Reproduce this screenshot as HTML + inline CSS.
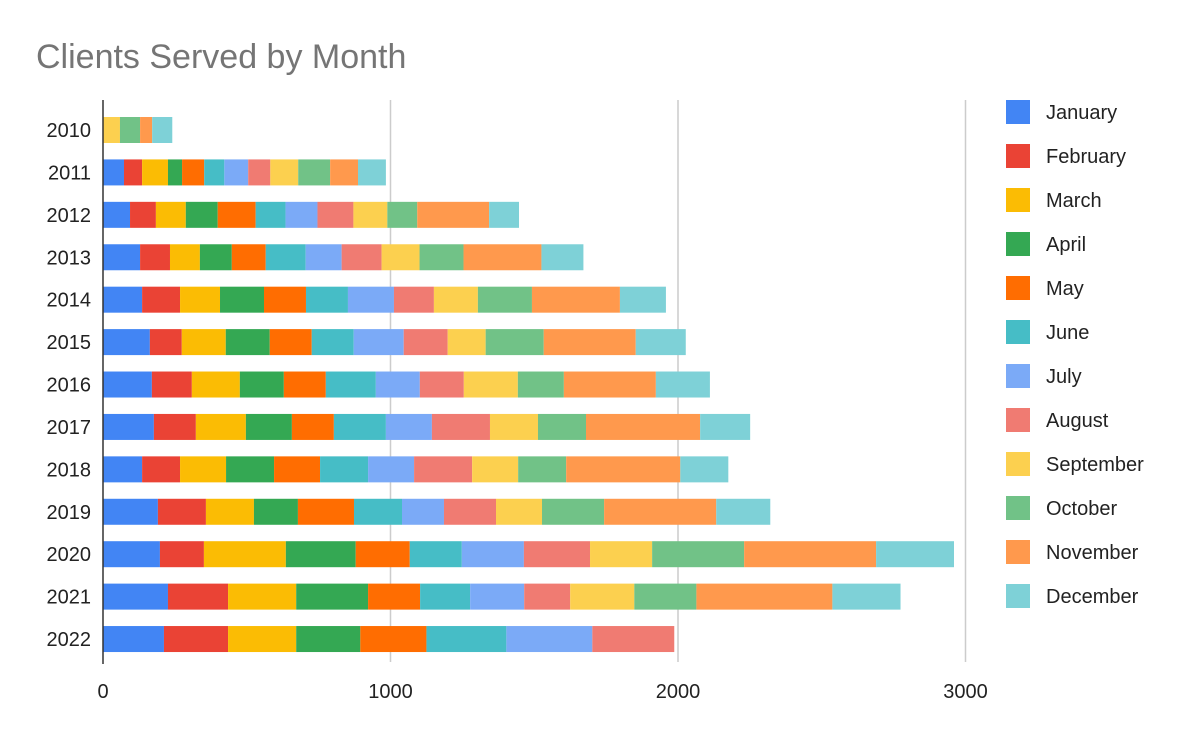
<!DOCTYPE html>
<html><head><meta charset="utf-8"><style>
body{margin:0;background:#fff;}
svg{display:block;font-family:"Liberation Sans",Arial,sans-serif;}
</style></head><body>
<svg id="chart" width="1200" height="742" viewBox="0 0 1200 742">
<text x="36" y="68" font-size="34" fill="#757575">Clients Served by Month</text>
<g id="grid"></g><g id="bars"></g><g id="axes"></g><g id="legend"></g>
</svg>
<script>
const years=["2010","2011","2012","2013","2014","2015","2016","2017","2018","2019","2020","2021","2022"];
const months=["January","February","March","April","May","June","July","August","September","October","November","December"];
const colors=["#4285F4","#EA4335","#FBBC04","#34A853","#FF6D01","#46BDC6","#7BAAF7","#F07B72","#FCD04F","#71C287","#FF994D","#7ED1D7"];
const xTicks=[0,1000,2000,3000];
const v2010=[0,0,0,0,0,0,0,0,59,70,42,70];
const v2011=[73,63,90,49,77,70,83,77,97,111,97,97];
const v2012=[94,90,104,111,132,104,111,125,118,104,250,104];
const v2013=[129,104,104,111,118,139,125,139,132,153,271,146];
const v2014=[136,132,139,153,146,146,160,139,153,188,306,160];
const v2015=[163,111,153,153,146,146,174,153,132,202,320,174];
const v2016=[170,139,167,153,146,174,153,153,188,160,320,188];
const v2017=[177,146,174,160,146,181,160,202,167,167,397,174];
const v2018=[136,132,160,167,160,167,160,202,160,167,397,167];
const v2019=[191,167,167,153,195,167,146,181,160,216,390,188];
const v2020=[198,153,285,243,188,181,216,230,216,320,459,271];
const v2021=[226,209,237,250,181,174,188,160,223,216,473,237];
const v2022=[212,223,237,223,230,278,299,285,0,0,0,0];
const values=[v2010,v2011,v2012,v2013,v2014,v2015,v2016,v2017,v2018,v2019,v2020,v2021,v2022];

const NS="http://www.w3.org/2000/svg";
const x0=103,pxPer=0.2875,firstC=130,rowH=42.42,barH=26;
const xs=v=>x0+v*pxPer;
const yc=i=>firstC+rowH*i;
function mk(tag,attrs,parent){const e=document.createElementNS(NS,tag);for(const k in attrs)e.setAttribute(k,attrs[k]);parent.appendChild(e);return e;}
const grid=document.getElementById('grid'),bars=document.getElementById('bars'),axes=document.getElementById('axes'),legend=document.getElementById('legend');
xTicks.forEach(t=>{
  if(t>0){const l=mk('line',{x1:xs(t),x2:xs(t),y1:100,y2:662,stroke:'#ccc','stroke-width':1.5},grid);
  
  }
  const tx=mk('text',{x:xs(t),y:698,'font-size':20,'text-anchor':'middle',fill:'#222'},axes);
  tx.textContent=t;
  
  
});
const ax=mk('line',{x1:x0,x2:x0,y1:100,y2:664,stroke:'#333','stroke-width':1.5},axes);


years.forEach((y,i)=>{
  let acc=0;
  values[i].forEach((v,m)=>{
    if(v>0){const r=mk('rect',{x:xs(acc),y:yc(i)-barH/2,width:v*pxPer,height:barH,fill:colors[m]},bars);
    
    }
    acc+=v;
  });
  const t=mk('text',{x:91,y:yc(i)+7,'font-size':20,'text-anchor':'end',fill:'#222'},axes);
  t.textContent=y;
  
  
});
months.forEach((m,k)=>{
  const g=mk('g',{},legend);
  
  
  const cy=112+44*k;
  mk('rect',{x:1006,y:cy-12,width:24,height:24,fill:colors[k]},g);
  const t=mk('text',{x:1046,y:cy+7,'font-size':20,fill:'#222'},g);
  t.textContent=m;
});
</script>
</body></html>
